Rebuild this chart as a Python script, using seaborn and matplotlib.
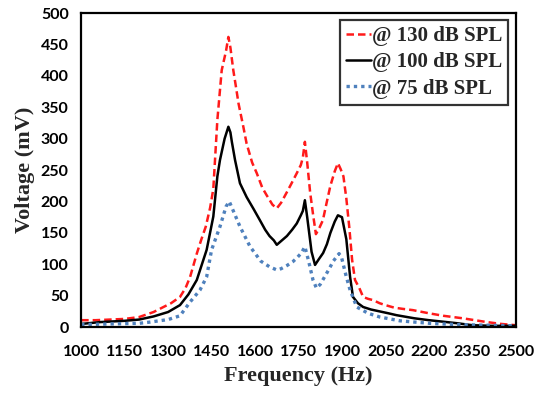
import matplotlib
matplotlib.use("Agg")
import matplotlib.pyplot as plt
import seaborn as sns
import pandas as pd

# Frequencies (Hz) and voltages (mV)
freq_130 = [1000, 1050, 1100, 1150, 1200, 1250, 1284, 1310, 1341, 1360, 1376, 1399, 1415,
            1430, 1445, 1456, 1470, 1485, 1500, 1508, 1515, 1525, 1535, 1543, 1560, 1571,
            1590, 1606, 1625, 1640, 1660, 1675, 1690, 1710, 1725, 1744, 1758, 1765, 1772,
            1780, 1790, 1800, 1810, 1822, 1834, 1848, 1860, 1875, 1886, 1895, 1905, 1915,
            1925, 1935, 1945, 1960, 1973, 1990, 2007, 2030, 2050, 2080, 2110, 2145, 2200,
            2250, 2317, 2400, 2450, 2500]
volt_130 = [11, 11, 12, 13, 16, 24, 32, 38, 48, 62, 80, 117, 140,
            160, 190, 220, 330, 409, 440, 462, 445, 409, 380, 356, 318, 292,
            262, 245, 222, 210, 195, 189, 198, 215, 228, 245, 258, 270, 295,
            262, 215, 180, 148, 158, 170, 200, 225, 248, 261, 252, 240, 205,
            160, 107, 75, 62, 48, 45, 43, 38, 35, 31, 29, 27, 22,
            18, 14, 8, 5, 3]

freq_100 = [1000, 1066, 1150, 1200, 1250, 1300, 1341, 1370, 1399, 1433, 1456, 1470, 1479,
            1495, 1508, 1515, 1520, 1531, 1548, 1571, 1595, 1617, 1635, 1650, 1665, 1675,
            1690, 1710, 1728, 1744, 1758, 1765, 1772, 1780, 1795, 1807, 1820, 1835, 1848,
            1860, 1875, 1886, 1900, 1915, 1928, 1938, 1955, 1973, 2000, 2030, 2060, 2088,
            2150, 2200, 2261, 2300, 2350, 2420, 2500]
volt_100 = [5, 8, 10, 12, 17, 24, 35, 52, 75, 123, 176, 240, 266,
            300, 319, 310, 295, 266, 229, 207, 188, 170, 155, 145, 138, 131,
            137, 145, 155, 165, 178, 185, 202, 175, 120, 99, 108, 118, 132,
            150, 168, 178, 175, 140, 80, 48, 38, 32, 28, 25, 22, 19,
            14, 11, 8, 6, 3, 2, 2]

freq_75 = [1000, 1100, 1200, 1238, 1300, 1341, 1376, 1410, 1433, 1450, 1479, 1500, 1511,
           1525, 1548, 1583, 1620, 1650, 1675, 1690, 1710, 1730, 1744, 1760, 1772, 1785,
           1800, 1812, 1825, 1840, 1855, 1870, 1890, 1899, 1915, 1928, 1951, 1990, 2031,
           2100, 2150, 2203, 2300, 2400, 2500]
volt_75 = [4, 5, 6, 8, 12, 18, 40, 59, 80, 123, 160, 192, 200,
           185, 160, 128, 105, 96, 91, 93, 98, 104, 110, 118, 128, 105,
           75, 62, 68, 80, 92, 105, 117, 110, 80, 59, 32, 22, 16,
           10, 8, 6, 4, 3, 2]

labels = ["@ 130 dB SPL", "@ 100 dB SPL", "@ 75 dB SPL"]
x_ticks = [1000, 1150, 1300, 1450, 1600, 1750, 1900, 2050, 2200, 2350, 2500]
y_ticks = [0, 50, 100, 150, 200, 250, 300, 350, 400, 450, 500]

sns.set_style("white")
plt.rcParams["font.family"] = ["DejaVu Sans"]

fig = plt.figure(figsize=(5.34, 3.96), dpi=100)
ax = fig.add_axes([0.152, 0.174, 0.814, 0.793])

series = [
    (freq_130, volt_130, labels[0], "#ff1a1a", (0, (3, 1.6)), 1.8),
    (freq_100, volt_100, labels[1], "#000000", "-", 1.8),
    (freq_75, volt_75, labels[2], "#4f81bd", (0, (1, 1.2)), 2.4),
]
for fx, vy, lab, col, ls, lw in series:
    df = pd.DataFrame({"f": fx, "v": vy})
    sns.lineplot(data=df, x="f", y="v", ax=ax, color=col, linestyle=ls,
                 linewidth=lw, label=lab)

ax.set_xlim(1000, 2500)
ax.set_ylim(0, 500)
ax.set_xticks(x_ticks)
ax.set_yticks(y_ticks)
tick_font = dict(family="Lato", weight="bold", size=11.5)
ax.set_xticklabels([str(t) for t in x_ticks], **tick_font)
ax.set_yticklabels([str(t) for t in y_ticks], **tick_font)
ax.tick_params(direction="in", length=5, width=1.5, colors="black")
ax.tick_params(axis="x", pad=13)
ax.tick_params(axis="y", pad=9)
for s in ax.spines.values():
    s.set_color("black")
    s.set_linewidth(1.6)

lab_font = dict(family="Liberation Serif", weight="bold", size=16)
ax.set_xlabel("Frequency (Hz)", labelpad=5, **lab_font)
ax.set_ylabel("Voltage (mV)", labelpad=4, **lab_font)

leg = ax.legend(loc="upper right", bbox_to_anchor=(0.983, 0.978), frameon=True,
                fancybox=False, edgecolor="black", handlelength=1.2,
                handletextpad=0.05, borderpad=0.3, borderaxespad=0.0,
                labelspacing=0.3,
                prop=dict(family="Liberation Serif", weight="bold", size=15))
leg.get_frame().set_linewidth(1.6)

fig.savefig("out.png", dpi=100)
